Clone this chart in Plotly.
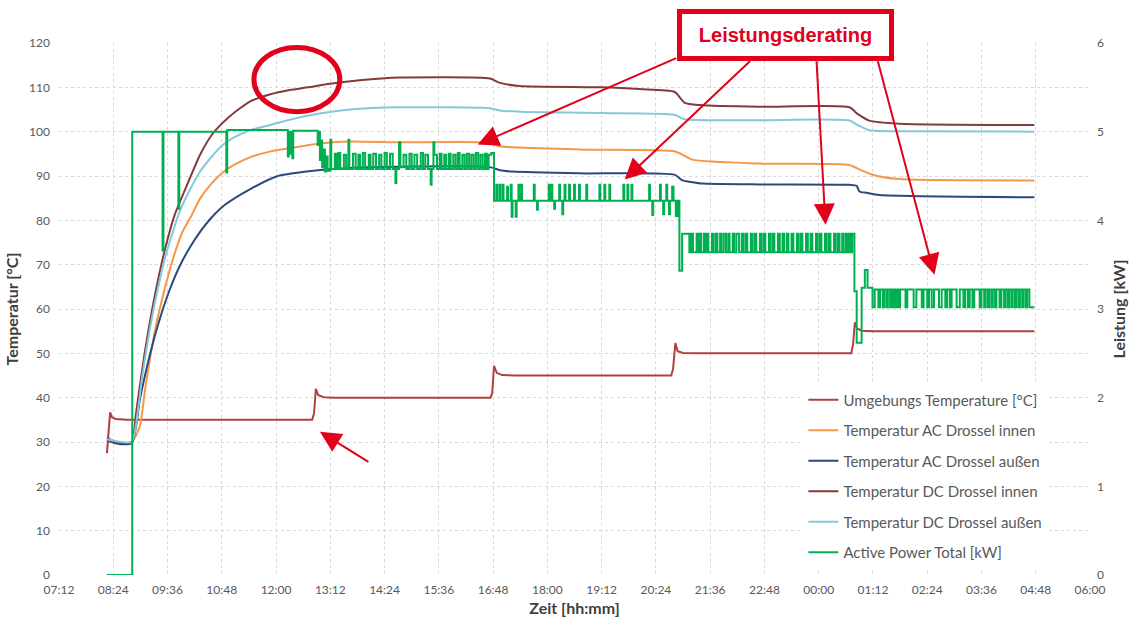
import plotly.graph_objects as go

# ---------------- data (time in clock hours, >24 = next day) ----------------
x_tick_labels = ["07:12", "08:24", "09:36", "10:48", "12:00", "13:12", "14:24", "15:36",
                 "16:48", "18:00", "19:12", "20:24", "21:36", "22:48", "00:00", "01:12",
                 "02:24", "03:36", "04:48", "06:00"]

umg_t = [8.26, 8.30, 8.33, 8.37, 8.45, 8.70, 12.80, 12.84, 12.88, 12.93, 13.05, 13.30,
         16.74, 16.78, 16.82, 16.88, 17.00, 17.30, 20.74, 20.78, 20.83, 20.88, 21.00, 21.30,
         24.72, 24.76, 24.80, 24.85, 24.95, 25.20, 28.77]
umg_v = [27.5, 34.0, 36.7, 35.6, 35.2, 35.0, 35.0, 36.5, 42.0, 40.6, 40.1, 40.0,
         40.0, 41.0, 47.2, 45.6, 45.1, 45.0, 45.0, 46.5, 52.3, 50.5, 50.1, 50.0,
         50.0, 52.0, 57.0, 55.6, 55.1, 55.0, 55.0]

aci_t = [8.26, 8.50, 8.81, 8.99, 9.10, 9.21, 9.34, 9.48, 9.59, 9.76, 9.94, 10.10, 10.32,
         10.58, 10.82, 11.09, 11.42, 11.86, 12.31, 13.03, 13.63, 14.74, 16.73, 16.95, 18.71,
         20.81, 20.95, 21.21, 22.69, 24.68, 24.90, 25.19, 25.79, 28.77]
aci_v = [30.8, 30.0, 30.0, 33.6, 41.6, 48.7, 56.0, 62.2, 66.6, 72.6, 77.6, 80.5, 84.9,
         88.4, 90.8, 92.6, 94.2, 95.5, 96.3, 97.4, 97.8, 97.6, 97.5, 96.7, 96.0,
         95.6, 95.0, 93.7, 92.8, 92.5, 91.5, 90.3, 89.3, 89.0]

aca_t = [8.26, 8.50, 8.81, 8.99, 9.21, 9.43, 9.65, 9.87, 10.10, 10.32, 10.58, 10.87, 11.42,
         12.01, 12.67, 13.63, 14.74, 16.73, 16.95, 17.23, 18.71, 20.81, 20.99, 21.21, 21.43,
         22.69, 24.68, 24.84, 24.90, 25.06, 25.34, 28.77]
aca_v = [30.4, 29.6, 29.8, 39.7, 49.7, 57.8, 64.4, 69.7, 74.0, 77.4, 80.7, 83.5, 87.0,
         89.9, 91.0, 91.8, 92.1, 92.0, 91.3, 91.0, 90.6, 90.3, 89.0, 88.6, 88.3,
         88.1, 88.0, 87.8, 86.5, 86.2, 85.7, 85.2]

dci_t = [8.26, 8.40, 8.60, 8.81, 8.90, 8.99, 9.10, 9.21, 9.36, 9.54, 9.76, 10.02, 10.32,
         10.61, 10.98, 11.42, 11.86, 12.30, 12.70, 13.19, 13.85, 14.74, 16.73, 16.95, 17.39,
         19.16, 20.04, 20.81, 21.04, 21.37, 22.69, 24.68, 24.86, 25.12, 25.79, 28.77]
dci_v = [31.0, 30.2, 29.8, 30.0, 36.1, 42.8, 50.4, 57.1, 65.1, 73.3, 81.3, 87.7, 94.8,
         99.7, 103.5, 106.8, 108.4, 109.4, 110.0, 110.8, 111.6, 112.2, 112.0, 111.0, 110.3,
         110.0, 109.6, 109.0, 106.5, 106.0, 105.6, 105.5, 104.0, 102.5, 101.8, 101.5]

dca_t = [8.26, 8.50, 8.81, 8.95, 9.03, 9.12, 9.21, 9.32, 9.43, 9.56, 9.70, 9.87, 10.10,
         10.32, 10.58, 10.82, 11.09, 11.42, 11.86, 12.31, 13.03, 13.63, 14.74, 16.73, 16.95,
         17.40, 19.16, 20.81, 21.04, 22.69, 24.68, 24.86, 25.12, 25.79, 28.77]
dca_v = [30.6, 30.1, 30.0, 37.4, 44.0, 50.0, 55.5, 61.4, 66.6, 72.1, 76.8, 82.0, 87.0,
         91.0, 94.4, 97.0, 98.8, 100.3, 101.5, 102.7, 104.2, 105.0, 105.5, 105.3, 104.8,
         104.5, 104.2, 103.8, 102.8, 102.6, 102.5, 101.5, 100.3, 100.1, 100.0]

# Active power [kW], step-wise samples
pw_t = [8.26, 8.82, 9.49, 9.51, 9.84, 9.86, 10.90, 10.92, 12.26, 12.28, 12.31, 12.33, 12.36, 12.38,
        12.92, 12.95, 12.97, 13.00, 13.02, 13.05, 13.08, 13.11, 13.14, 13.20, 13.22, 13.30, 13.34,
        13.38, 13.42, 13.50, 13.55, 13.60, 13.62, 13.70, 13.76, 13.82, 13.86, 13.92, 13.97, 14.05,
        14.09, 14.15, 14.21, 14.28, 14.33, 14.40, 14.45, 14.52, 14.58, 14.64, 14.66, 14.72, 14.75,
        14.82, 14.88, 14.95, 15.00, 15.06, 15.12, 15.20, 15.25, 15.30, 15.36, 15.42, 15.44, 15.48,
        15.50, 15.56, 15.62, 15.66, 15.72, 15.76, 15.82, 15.86, 15.92, 15.97, 16.02, 16.06, 16.12,
        16.17, 16.22, 16.27, 16.32, 16.37, 16.42, 16.47, 16.52, 16.57, 16.62, 16.66, 16.70, 16.76,
        16.82, 16.87, 16.89, 16.94, 16.96, 17.01, 17.03, 17.11, 17.13, 17.19, 17.21, 17.23, 17.30,
        17.32, 17.36, 17.38, 17.42, 17.44, 17.70, 17.72, 17.77, 17.79, 18.03, 18.05, 18.09, 18.11,
        18.15, 18.17, 18.26, 18.28, 18.33, 18.35, 18.38, 18.40, 18.48, 18.50, 18.59, 18.61, 18.70,
        18.72, 18.86, 18.88, 19.15, 19.17, 19.26, 19.28, 19.37, 19.39, 19.68, 19.70, 19.77, 19.79,
        19.86, 19.88, 20.25, 20.27, 20.32, 20.34, 20.49, 20.51, 20.56, 20.58, 20.63, 20.65, 20.69,
        20.71, 20.76, 20.79, 20.84, 20.88, 20.92, 20.98,
        21.06, 21.14, 21.18, 21.22, 21.30, 21.33, 21.36, 21.40, 21.46, 21.49, 21.53, 21.56, 21.64,
        21.67, 21.72, 21.76, 21.82, 21.85, 21.90, 21.95, 22.00, 22.03, 22.10, 22.13, 22.18, 22.24,
        22.30, 22.33, 22.38, 22.42, 22.50, 22.53, 22.58, 22.62, 22.70, 22.73, 22.78, 22.82, 22.90,
        22.93, 22.98, 23.02, 23.10, 23.14, 23.20, 23.24, 23.30, 23.33, 23.40, 23.44, 23.52, 23.55,
        23.60, 23.64, 23.72, 23.76, 23.82, 23.86, 23.94, 23.97, 24.02, 24.06, 24.14, 24.17, 24.22,
        24.26, 24.34, 24.37, 24.42, 24.46, 24.52, 24.55, 24.60, 24.63, 24.67, 24.71, 24.74,
        24.79, 24.84, 24.95, 25.02, 25.08, 25.19, 25.24, 25.32, 25.36, 25.42, 25.45, 25.50, 25.53,
        25.58, 25.61, 25.64, 25.67, 25.70, 25.73, 25.76, 25.80, 25.92, 25.96, 26.10, 26.16, 26.28,
        26.32, 26.40, 26.44, 26.50, 26.55, 26.66, 26.72, 26.80, 26.84, 26.90, 26.94, 27.05, 27.12,
        27.20, 27.24, 27.30, 27.34, 27.40, 27.44, 27.56, 27.60, 27.66, 27.69, 27.74, 27.77, 27.82,
        27.85, 27.90, 27.93, 28.00, 28.04, 28.10, 28.13, 28.18, 28.21, 28.26, 28.29, 28.34, 28.37,
        28.42, 28.45, 28.50, 28.53, 28.58, 28.61, 28.66, 28.77]
pw_kw = [0.00, 5.00, 3.66, 5.00, 4.13, 5.00, 4.54, 5.02, 4.72, 5.00, 4.75, 5.00, 4.70, 5.01,
         4.85, 5.00, 4.68, 4.90, 4.60, 4.80, 4.55, 4.72, 4.56, 4.91, 4.58, 4.75, 4.58,
         4.76, 4.58, 4.74, 4.58, 4.91, 4.58, 4.75, 4.58, 4.74, 4.58, 4.76, 4.58, 4.74,
         4.58, 4.75, 4.58, 4.74, 4.58, 4.76, 4.58, 4.75, 4.58, 4.42, 4.58, 4.88, 4.60,
         4.74, 4.58, 4.75, 4.58, 4.74, 4.58, 4.76, 4.58, 4.74, 4.58, 4.40, 4.58, 4.88,
         4.74, 4.58, 4.75, 4.58, 4.74, 4.58, 4.75, 4.58, 4.74, 4.58, 4.76, 4.58, 4.74,
         4.58, 4.75, 4.58, 4.74, 4.58, 4.76, 4.58, 4.74, 4.58, 4.75, 4.58, 4.74, 4.76,
         4.22, 4.40, 4.22, 4.40, 4.22, 4.40, 4.22, 4.38, 4.22, 4.40, 4.04, 4.22, 4.04,
         4.22, 4.40, 4.22, 4.40, 4.22, 4.40, 4.22, 4.12, 4.22, 4.40, 4.22, 4.40, 4.22,
         4.13, 4.22, 4.40, 4.22, 4.07, 4.22, 4.40, 4.22, 4.40, 4.22, 4.40, 4.22, 4.40,
         4.22, 4.40, 4.22, 4.40, 4.22, 4.40, 4.22, 4.40, 4.22, 4.40, 4.22, 4.40, 4.22,
         4.40, 4.22, 4.40, 4.22, 4.06, 4.22, 4.40, 4.22, 4.07, 4.22, 4.40, 4.22, 4.07,
         4.22, 4.38, 4.22, 4.05, 4.22, 3.43, 3.85,
         3.85, 3.64, 3.85, 3.64, 3.85, 3.64, 3.85, 3.64, 3.85, 3.64, 3.85, 3.64, 3.85,
         3.64, 3.85, 3.64, 3.85, 3.64, 3.85, 3.64, 3.85, 3.64, 3.85, 3.64, 3.85, 3.64,
         3.85, 3.64, 3.85, 3.64, 3.85, 3.64, 3.85, 3.64, 3.85, 3.64, 3.85, 3.64, 3.85,
         3.64, 3.85, 3.64, 3.85, 3.64, 3.85, 3.64, 3.85, 3.64, 3.85, 3.64, 3.85, 3.64,
         3.85, 3.64, 3.85, 3.64, 3.85, 3.64, 3.85, 3.64, 3.85, 3.64, 3.85, 3.64, 3.85,
         3.64, 3.85, 3.64, 3.85, 3.64, 3.85, 3.64, 3.85, 3.64, 3.85, 3.64, 3.85,
         3.20, 2.62, 3.24, 3.44, 3.24, 3.02, 3.22, 3.02, 3.22, 3.02, 3.22, 3.02, 3.22,
         3.02, 3.22, 3.02, 3.22, 3.02, 3.22, 3.02, 3.22, 3.02, 3.22, 3.02, 3.22, 3.02,
         3.22, 3.02, 3.22, 3.02, 3.22, 3.02, 3.22, 3.02, 3.22, 3.02, 3.22, 3.02, 3.22,
         3.02, 3.22, 3.02, 3.22, 3.02, 3.22, 3.02, 3.22, 3.02, 3.22, 3.02, 3.22, 3.02,
         3.22, 3.02, 3.22, 3.02, 3.22, 3.02, 3.22, 3.02, 3.22, 3.02, 3.22, 3.02, 3.22,
         3.02, 3.22, 3.02, 3.22, 3.02, 3.22, 3.02, 3.02]

series_names = ["Umgebungs Temperature [°C]", "Temperatur AC Drossel innen",
                "Temperatur AC Drossel außen", "Temperatur DC Drossel innen",
                "Temperatur DC Drossel außen", "Active Power Total [kW]"]
series_colors = ["#B0403D", "#F79646", "#2A4A7C", "#843A3A", "#86C8DB", "#00B050"]

# ---------------- figure ----------------
FONT = "Lato"
RED = "#E2001A"
GRID = "#D9D9D9"
TXT = "#595959"
TITLE_FONT = dict(family=FONT, size=16, color="#404040", weight="bold")

fig = go.Figure()
temp_series = [(umg_t, umg_v), (aci_t, aci_v), (aca_t, aca_v), (dci_t, dci_v), (dca_t, dca_v)]
for i, ((t, v), name, col) in enumerate(zip(temp_series, series_names[:5], series_colors[:5])):
    line = dict(color=col, width=2)
    if i > 0:
        line.update(shape="spline", smoothing=0.6)
    fig.add_trace(go.Scatter(x=t, y=v, mode="lines", name=name, legendgroup=name, line=line))
fig.add_trace(go.Scatter(x=pw_t, y=pw_kw, mode="lines", name=series_names[5],
                         legendgroup=series_names[5], yaxis="y2",
                         line=dict(color=series_colors[5], width=2, shape="hv")))

x0 = 7.2
step = 1.2
tickvals = [x0 + step * i for i in range(len(x_tick_labels))]

fig.update_layout(
    width=1132, height=622,
    margin=dict(l=59, r=42, t=43, b=47),
    paper_bgcolor="white", plot_bgcolor="white",
    font=dict(family=FONT, size=12, color=TXT),
    xaxis=dict(range=[tickvals[0], tickvals[-1]], tickvals=tickvals, ticktext=x_tick_labels,
               showgrid=True, gridcolor=GRID, griddash="dot", gridwidth=1,
               showline=False, zeroline=False, ticks="", ticklabelstandoff=6,
               tickfont=dict(family=FONT, size=12, color=TXT),
               title=dict(text="Zeit [hh:mm]", font=TITLE_FONT, standoff=6),
               automargin=False),
    yaxis=dict(range=[0, 120], dtick=10, showgrid=True, gridcolor=GRID, griddash="dot", gridwidth=1,
               zeroline=False, showline=False, ticks="", ticklabelstandoff=8,
               tickfont=dict(family=FONT, size=12, color=TXT),
               title=dict(text="Temperatur [°C]", font=TITLE_FONT, standoff=6),
               automargin=False),
    yaxis2=dict(range=[0, 6], dtick=1, overlaying="y", side="right", showgrid=False,
                zeroline=False, showline=False, ticks="", ticklabelstandoff=6,
                tickfont=dict(family=FONT, size=12, color=TXT),
                title=dict(text="Leistung [kW]", font=TITLE_FONT, standoff=10),
                automargin=False),
    legend=dict(x=0.722, y=0.36, xanchor="left", yanchor="top", bgcolor="white",
                font=dict(family=FONT, size=15, color=TXT), tracegroupgap=8,
                traceorder="grouped"),
    showlegend=True,
)

# red ellipse
fig.add_shape(type="circle", xref="x", yref="y", x0=11.51, x1=13.41, y0=104.5, y1=119.0,
              line=dict(color=RED, width=5))

# arrows
arrows = [(16.46, 97.1, 200, -87), (19.71, 89.2, 127, -120), (24.15, 79.0, -9, -165),
          (26.56, 67.7, -57, -215), (12.97, 32.3, 50, 31)]
for ax_x, ax_y, dx, dy in arrows:
    fig.add_annotation(x=ax_x, y=ax_y, xref="x", yref="y", ax=dx, ay=dy, text="",
                       showarrow=True, arrowhead=2, arrowsize=2.1, arrowwidth=2, arrowcolor=RED)

# box
fig.add_annotation(x=0.705, y=1.015, xref="paper", yref="paper", xanchor="center", yanchor="middle",
                   text="<b>Leistungsderating</b>", showarrow=False,
                   font=dict(family="Liberation Sans", size=20, color=RED),
                   bgcolor="white", bordercolor=RED, borderwidth=5, borderpad=5,
                   width=197, height=32)

fig.write_html("out.html", config={"displayModeBar": False},
               post_script="document.body.style.margin='0';document.body.style.overflow='hidden';")
